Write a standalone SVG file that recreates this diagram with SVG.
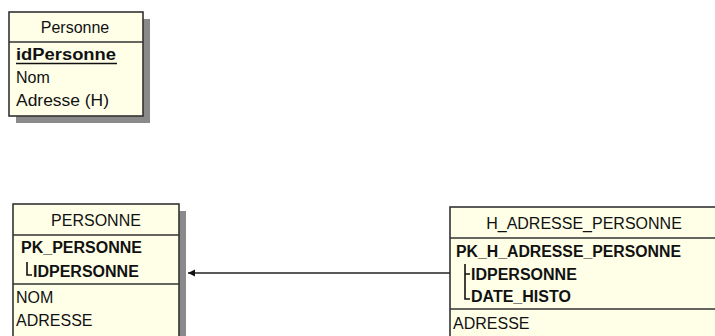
<svg xmlns="http://www.w3.org/2000/svg" width="715" height="336" viewBox="0 0 715 336">
  <style>
    .box { fill: #FFFFE8; stroke: #333333; stroke-width: 1.6; }
    .shadow { fill: #8a8a8a; }
    .div { stroke: #333333; stroke-width: 1.6; }
    text { font-family: "Liberation Sans", Arial, sans-serif; font-size: 16px; fill: #111111; }
    .b { font-weight: bold; }
    .c { text-anchor: middle; }
    .tree { fill: none; stroke: #111111; stroke-width: 1.6; }
    .conn { stroke: #222222; stroke-width: 1.4; fill: none; }
  </style>
  <defs>
    <marker id="arrow" markerWidth="8" markerHeight="8" refX="7" refY="3.5" orient="auto" markerUnits="userSpaceOnUse">
      <path d="M0,0 L7,3.5 L0,7 Z" fill="#111111"/>
    </marker>
  </defs>
  <rect width="715" height="336" fill="#ffffff"/>

  <g id="Personne">
    <rect class="shadow" x="16" y="19" width="134" height="104"/>
    <rect class="box" x="9" y="12" width="134" height="104"/>
    <line class="div" x1="9" y1="42" x2="143" y2="42"/>
    <text class="c" x="75" y="33">Personne</text>
    <text class="b" x="16" y="60" textLength="100" lengthAdjust="spacingAndGlyphs">idPersonne</text>
    <line x1="16" y1="63.5" x2="117" y2="63.5" stroke="#111111" stroke-width="1.6"/>
    <text x="16" y="83">Nom</text>
    <text x="16" y="106" textLength="93" lengthAdjust="spacingAndGlyphs">Adresse (H)</text>
  </g>

  <g id="PERSONNE">
    <rect class="shadow" x="20" y="211" width="166" height="140"/>
    <rect class="box" x="13" y="204" width="166" height="140"/>
    <line class="div" x1="13" y1="235" x2="179" y2="235"/>
    <line class="div" x1="13" y1="284" x2="179" y2="284"/>
    <text class="c" x="96" y="226">PERSONNE</text>
    <text class="b" x="21" y="253">PK_PERSONNE</text>
    <path class="tree" d="M27,262 V275 H32"/>
    <text class="b" x="33" y="277">IDPERSONNE</text>
    <text x="16" y="303">NOM</text>
    <text x="16" y="326">ADRESSE</text>
  </g>

  <g id="H_ADRESSE_PERSONNE">
    <rect class="shadow" x="457" y="214" width="268" height="140"/>
    <rect class="box" x="450" y="207" width="268" height="140"/>
    <line class="div" x1="450" y1="238" x2="718" y2="238"/>
    <line class="div" x1="450" y1="309" x2="718" y2="309"/>
    <text class="c" x="584" y="229">H_ADRESSE_PERSONNE</text>
    <text class="b" x="456" y="257" textLength="225" lengthAdjust="spacingAndGlyphs">PK_H_ADRESSE_PERSONNE</text>
    <path class="tree" d="M465,264 V299 H470 M465,274 H470"/>
    <text class="b" x="471" y="280">IDPERSONNE</text>
    <text class="b" x="471" y="302">DATE_HISTO</text>
    <text x="453" y="329">ADRESSE</text>
  </g>

  <g id="connectors">
    <line class="conn" x1="450" y1="273" x2="188" y2="273" marker-end="url(#arrow)"/>
  </g>
</svg>
